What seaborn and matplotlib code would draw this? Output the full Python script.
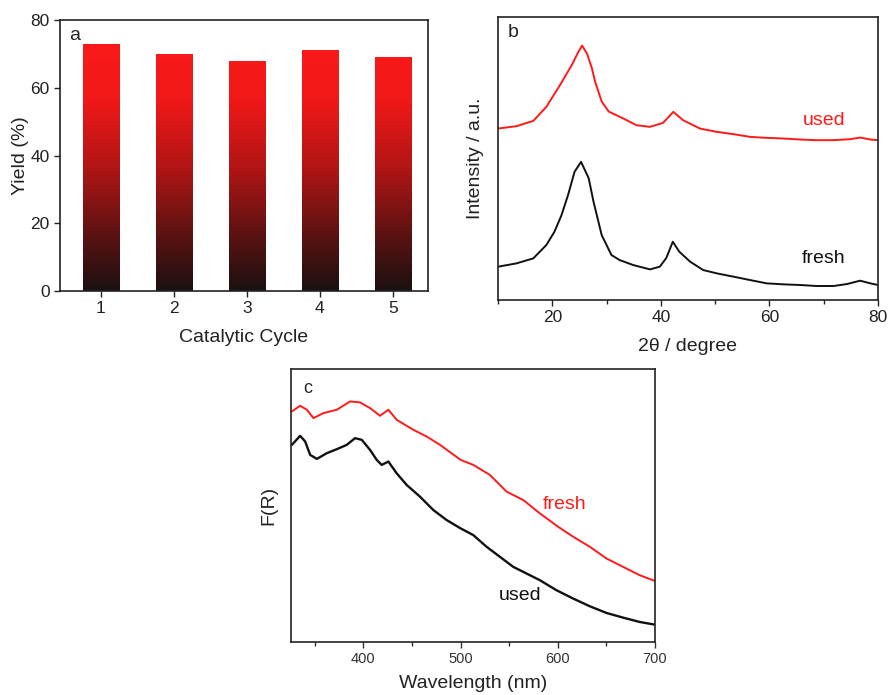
import numpy as np
import pandas as pd
import matplotlib
matplotlib.use("Agg")
import matplotlib.pyplot as plt
from matplotlib.colors import LinearSegmentedColormap
from matplotlib.ticker import MultipleLocator
import seaborn as sns

# ---------------- data ----------------
cycles = ["1", "2", "3", "4", "5"]
yields = [73, 70, 68, 71, 69]

xrd_used_x = [10, 13.4, 16.5, 18.9, 21.4, 23.6, 24.8, 25.5, 26.4, 27.3, 27.9, 29.1, 30.4, 33.1,
              35.5, 38.0, 40.4, 42.3, 44.1, 47.2, 50.3, 53.4, 56.4, 59.5, 62.6, 65.7, 68.7,
              71.8, 74.9, 76.7, 78.6, 80]
xrd_used_y = [51.5, 52.2, 53.8, 58.0, 64.5, 70.6, 74.5, 76.4, 74.0, 69.6, 65.5, 59.6, 56.6, 54.5,
              52.5, 52.0, 53.2, 56.5, 54.0, 51.5, 50.5, 49.8, 49.0, 48.7, 48.5, 48.2, 48.0,
              48.0, 48.3, 48.8, 48.2, 48.0]
xrd_fresh_x = [10, 13.4, 16.5, 18.9, 20.4, 21.7, 22.9, 24.1, 25.3, 26.7, 27.6, 29.1, 30.9, 32.4,
               34.9, 38.0, 39.8, 41.0, 42.2, 43.4, 45.4, 47.8, 50.3, 53.4, 56.4, 59.5, 62.6,
               65.7, 68.7, 71.8, 74.3, 76.7, 78.6, 80]
xrd_fresh_y = [10.0, 11.0, 12.5, 16.5, 20.5, 25.5, 31.5, 38.5, 41.5, 36.6, 29.5, 19.5, 13.5, 12.0,
               10.5, 9.2, 10.0, 12.6, 17.5, 14.5, 11.5, 9.0, 8.0, 7.0, 6.0, 5.0, 4.7,
               4.5, 4.2, 4.2, 4.8, 5.8, 5.0, 4.5]

drs_fresh_x = [326.4, 334.9, 341.8, 348.6, 358.9, 372.6, 386.3, 396.6, 406.8, 417.1, 425.7, 434.2,
               451.4, 465.1, 478.8, 500, 513, 530.1, 547.3, 564.4, 581.5, 600.3, 615.8, 632.9,
               650, 667.1, 684.2, 699.7]
drs_fresh_y = [69.0, 70.7, 69.5, 67.0, 68.5, 69.5, 72.0, 71.7, 70.0, 67.7, 69.5, 66.5,
               63.5, 61.5, 59.0, 54.5, 53.0, 50.0, 45.0, 42.5, 38.5, 34.5, 31.5, 28.5,
               25.0, 22.5, 20.0, 18.3]
drs_used_x = [326.4, 334.9, 340.1, 345.2, 352.1, 362.3, 372.6, 382.9, 391.4, 398.3, 406.8, 413.7,
              418.8, 425.7, 434.2, 444.5, 458.2, 471.9, 485.6, 500, 513, 526.7, 540.4, 554.1,
              567.8, 581.5, 598.6, 615.8, 632.9, 650, 667.1, 684.2, 699.7]
drs_used_y = [59.0, 61.7, 60.0, 56.0, 54.8, 56.5, 57.7, 59.0, 61.0, 60.5, 57.5, 54.5,
              53.0, 54.0, 50.5, 47.0, 43.5, 39.5, 36.5, 34.0, 32.0, 28.5, 25.5, 22.5,
              20.5, 18.5, 15.5, 13.0, 10.7, 8.7, 7.3, 6.0, 5.2]

# ---------------- style ----------------
sns.set_theme(style="ticks")
plt.rcParams["font.family"] = ["Liberation Sans", "DejaVu Sans"]
plt.rcParams["axes.linewidth"] = 1.2
plt.rcParams["xtick.major.width"] = 1.0
plt.rcParams["ytick.major.width"] = 1.0
plt.rcParams["axes.edgecolor"] = "#222222"

RED = "#ff1a1a"
BLACK = "#111111"
TXT = "#222222"

fig = plt.figure(figsize=(8.89, 6.95), dpi=100)
W, H = 889, 695

def add_ax(l, t, r, b):
    return fig.add_axes([l / W, 1 - b / H, (r - l) / W, (b - t) / H])

# ---------------- panel a ----------------
axa = add_ax(60, 20, 428, 291)
dfa = pd.DataFrame({"cycle": cycles, "yield": yields})
sns.barplot(data=dfa, x="cycle", y="yield", order=cycles, width=0.5,
            color=RED, ax=axa, saturation=1)
cmap = LinearSegmentedColormap.from_list(
    "redgrad",
    [(0.0, "#1c1010"), (0.2, "#5a1212"), (0.45, "#b01515"), (0.7, "#f01818"), (1.0, "#ff1a1a")])
grad = np.linspace(0, 1, 256).reshape(-1, 1)
for p in axa.patches:
    x0, w = p.get_x(), p.get_width()
    p.set_facecolor("none")
    p.set_edgecolor("none")
    im = axa.imshow(grad, cmap=cmap, vmin=0, vmax=1.025, aspect="auto", origin="lower",
                    extent=[x0, x0 + w, 0, 78], zorder=2)
    im.set_clip_path(p)
axa.set_xlim(-0.56, 4.48)
axa.set_ylim(0, 80)
axa.set_yticks([0, 20, 40, 60, 80])
axa.set_xlabel("Catalytic Cycle", fontsize=14, labelpad=9, color=TXT)
axa.set_ylabel("Yield (%)", fontsize=14, labelpad=1, color=TXT)
axa.tick_params(axis="both", labelsize=12.5, direction="out", length=4, colors=TXT)
axa.text(0.025, 0.975, "a", transform=axa.transAxes, fontsize=14, va="top", ha="left")

# ---------------- panel b ----------------
axb = add_ax(498, 17, 878, 300)
dfb_u = pd.DataFrame({"x": xrd_used_x, "y": xrd_used_y})
dfb_f = pd.DataFrame({"x": xrd_fresh_x, "y": xrd_fresh_y})
sns.lineplot(data=dfb_u, x="x", y="y", color=RED, lw=1.4, ax=axb, sort=False, estimator=None)
sns.lineplot(data=dfb_f, x="x", y="y", color=BLACK, lw=1.4, ax=axb, sort=False, estimator=None)
axb.set_xlim(10, 80)
axb.set_ylim(0, 85)
axb.set_xticks([20, 40, 60, 80])
axb.xaxis.set_minor_locator(MultipleLocator(10))
axb.set_yticks([])
axb.set_xlabel("2θ / degree", fontsize=14, labelpad=9, color=TXT)
axb.set_ylabel("Intensity / a.u.", fontsize=14, labelpad=10, color=TXT)
axb.tick_params(axis="x", which="both", labelsize=12.5, direction="out", colors=TXT)
axb.tick_params(axis="x", which="major", length=4)
axb.tick_params(axis="x", which="minor", length=3, width=1.0)
axb.text(0.025, 0.975, "b", transform=axb.transAxes, fontsize=14, va="top", ha="left")
axb.text(70, 54, "used", color=RED, fontsize=14, ha="center", va="center")
axb.text(70, 12.5, "fresh", color=BLACK, fontsize=14, ha="center", va="center")

# ---------------- panel c ----------------
axc = add_ax(291, 369, 655, 642)
dfc_f = pd.DataFrame({"x": drs_fresh_x, "y": drs_fresh_y})
dfc_u = pd.DataFrame({"x": drs_used_x, "y": drs_used_y})
sns.lineplot(data=dfc_f, x="x", y="y", color=RED, lw=1.4, ax=axc, sort=False, estimator=None)
sns.lineplot(data=dfc_u, x="x", y="y", color=BLACK, lw=1.7, ax=axc, sort=False, estimator=None)
axc.set_xlim(325.5, 700)
axc.set_ylim(0, 81.7)
axc.set_xticks([400, 500, 600, 700])
axc.xaxis.set_minor_locator(MultipleLocator(50))
axc.set_yticks([])
axc.set_xlabel("Wavelength (nm)", fontsize=14, labelpad=6, color=TXT)
axc.set_ylabel("F(R)", fontsize=14, labelpad=10, color=TXT)
axc.tick_params(axis="x", which="both", labelsize=10.5, direction="out", colors="#333333")
axc.tick_params(axis="x", which="major", length=4)
axc.tick_params(axis="x", which="minor", length=3, width=1.0)
axc.text(0.035, 0.96, "c", transform=axc.transAxes, fontsize=13, va="top", ha="left")
axc.text(607, 41, "fresh", color=RED, fontsize=14, ha="center", va="center")
axc.text(561, 14, "used", color=BLACK, fontsize=14, ha="center", va="center")

fig.savefig("out.png", dpi=100, facecolor="white")
